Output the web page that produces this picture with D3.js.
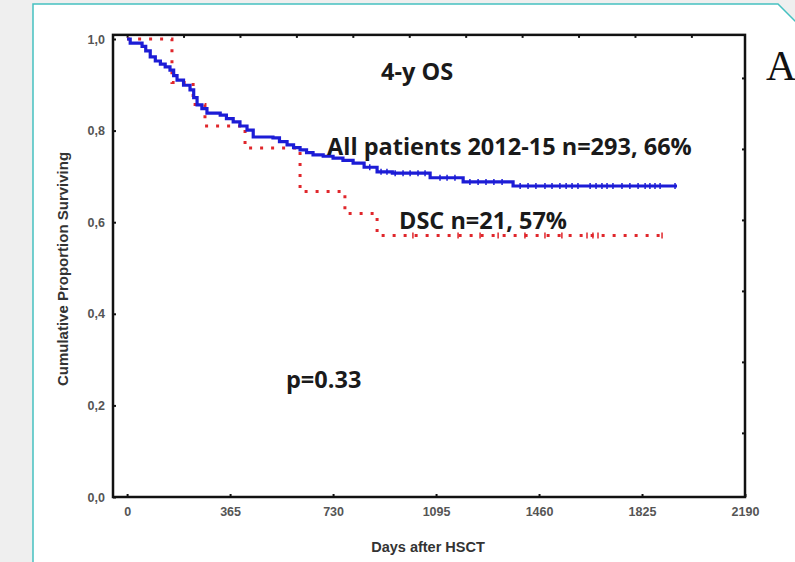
<!DOCTYPE html>
<html>
<head>
<meta charset="utf-8">
<script src="https://cdn.jsdelivr.net/npm/d3@7"></script>
<style>
  body { margin: 0; background: #efefef; }
  svg { display: block; }
</style>
</head>
<body>
<svg id="chart" width="795" height="562"></svg>
<script>
// all patients 2012-15 (step points, days after HSCT / survival)
var allDays = [0, 11, 53, 66, 82, 100, 118, 135, 152, 165, 177, 200, 223, 236, 248, 265, 283, 330, 352, 376, 400, 425, 447, 517, 540, 567, 590, 613, 636, 659, 695, 730, 765, 801, 840, 886, 940, 1074, 1191, 1368, 1949];
var allSurv = [1.0, 0.991, 0.984, 0.974, 0.961, 0.952, 0.945, 0.939, 0.932, 0.92, 0.910, 0.899, 0.889, 0.872, 0.856, 0.848, 0.838, 0.834, 0.826, 0.819, 0.81, 0.801, 0.786, 0.784, 0.776, 0.769, 0.763, 0.758, 0.752, 0.747, 0.744, 0.740, 0.735, 0.729, 0.72, 0.710, 0.707, 0.697, 0.688, 0.679, 0.679];
var allCensor = [860, 900, 921, 950, 978, 1003, 1031, 1056, 1109, 1134, 1162, 1215, 1244, 1272, 1300, 1329, 1393, 1421, 1449, 1481, 1506, 1534, 1556, 1577, 1598, 1641, 1662, 1683, 1701, 1722, 1754, 1782, 1811, 1836, 1853, 1871, 1889, 1942];

// DSC group
var dscDays = [0, 159, 234, 276, 418, 613, 772, 886, 1896];
var dscSurv = [1.0, 0.905, 0.857, 0.810, 0.762, 0.667, 0.619, 0.571, 0.571];
var dscCensor = [1013, 1173, 1251, 1315, 1410, 1481, 1541, 1630, 1651, 1669, 1896];

var xTicks = [0, 365, 730, 1095, 1460, 1825, 2190];
var yTicks = [0, 0.2, 0.4, 0.6, 0.8, 1.0];
var topTicks = [0, 200, 400, 600, 800, 1000, 1200, 1400, 1600, 1800, 2000];
var rightTicks = [0.14, 0.295, 0.45, 0.605, 0.76, 0.915];

var svg = d3.select("#chart");

// slide background: grey margin, white panel with teal border
svg.append("rect").attr("width", 795).attr("height", 562).attr("fill", "#efefef");
svg.append("path")
    .attr("d", "M33,563 L33,4 L778,4 L796,22 L796,563 Z")
    .attr("fill", "white")
    .attr("stroke", "#45c1c1")
    .attr("stroke-width", 1.5);

var x = d3.scaleLinear().domain([-50, 2190]).range([113, 745]);
var y = d3.scaleLinear().domain([0, 1]).range([497, 39]);

var axisFont = "'Liberation Sans', Arial, sans-serif";
var textFont = "'Open Sans', Lato, sans-serif";

// frame
var frameTop = y(1.009);
svg.append("rect")
    .attr("x", x(-50)).attr("y", frameTop)
    .attr("width", x(2190) - x(-50)).attr("height", y(0) - frameTop)
    .attr("fill", "none").attr("stroke", "#111").attr("stroke-width", 2.5);

// axes
var xAxis = d3.axisBottom(x).tickValues(xTicks).tickSize(-3).tickPadding(10).tickFormat(d3.format("d"));
var gx = svg.append("g").attr("transform", "translate(0," + y(0) + ")").call(xAxis);
var yAxis = d3.axisLeft(y).tickValues(yTicks).tickSize(-3).tickPadding(8)
    .tickFormat(function (d) { return d.toFixed(1).replace(".", ","); });
var gy = svg.append("g").attr("transform", "translate(" + x(-50) + ",0)").call(yAxis);
var gt = svg.append("g").attr("transform", "translate(0," + frameTop + ")")
    .call(d3.axisTop(x).tickValues(topTicks).tickSize(-3).tickFormat(""));
var gr = svg.append("g").attr("transform", "translate(" + x(2190) + ",0)")
    .call(d3.axisRight(y).tickValues(rightTicks).tickSize(-3).tickFormat(""));

[gx, gy, gt, gr].forEach(function (g) {
    g.select(".domain").remove();
    g.selectAll(".tick line").attr("stroke", "#111").attr("stroke-width", 2);
    g.selectAll(".tick text")
        .attr("fill", "#555")
        .style("font-family", axisFont)
        .style("font-size", "12.5px")
        .style("font-weight", "bold");
});

// survival curves
var line = d3.line()
    .x(function (d) { return x(d[0]); })
    .y(function (d) { return y(d[1]); })
    .curve(d3.curveStepAfter);

var allData = allDays.map(function (d, i) { return [d, allSurv[i]]; });
var dscData = dscDays.map(function (d, i) { return [d, dscSurv[i]]; });

svg.append("path").datum(dscData)
    .attr("d", line)
    .attr("fill", "none")
    .attr("stroke", "#e0262b")
    .attr("stroke-width", 3)
    .attr("stroke-dasharray", "3,8");

svg.append("path").datum(allData)
    .attr("d", line)
    .attr("fill", "none")
    .attr("stroke", "#1c1cd6")
    .attr("stroke-width", 3.2);

// censor marks
function survAt(days, surv, t) {
    var v = surv[0];
    for (var i = 0; i < days.length; i++) {
        if (days[i] <= t) v = surv[i];
    }
    return v;
}

svg.selectAll(".cAll").data(allCensor).enter().append("line")
    .attr("class", "cAll")
    .attr("x1", function (d) { return x(d); })
    .attr("x2", function (d) { return x(d); })
    .attr("y1", function (d) { return y(survAt(allDays, allSurv, d)) - 3; })
    .attr("y2", function (d) { return y(survAt(allDays, allSurv, d)) + 3; })
    .attr("stroke", "#1c1cd6").attr("stroke-width", 1.5);

svg.selectAll(".cDsc").data(dscCensor).enter().append("line")
    .attr("class", "cDsc")
    .attr("x1", function (d) { return x(d); })
    .attr("x2", function (d) { return x(d); })
    .attr("y1", function (d) { return y(survAt(dscDays, dscSurv, d)) - 3; })
    .attr("y2", function (d) { return y(survAt(dscDays, dscSurv, d)) + 3; })
    .attr("stroke", "#e0262b").attr("stroke-width", 1.5);

// axis titles
svg.append("text")
    .attr("x", 428).attr("y", 552)
    .attr("text-anchor", "middle")
    .attr("fill", "#333")
    .style("font-family", axisFont).style("font-size", "14.5px").style("font-weight", "bold")
    .text("Days after HSCT");

svg.append("text")
    .attr("transform", "translate(68,269) rotate(-90)")
    .attr("text-anchor", "middle")
    .attr("fill", "#333")
    .style("font-family", axisFont).style("font-size", "15px").style("font-weight", "bold")
    .text("Cumulative Proportion Surviving");

// annotations
function note(tx, ty, s) {
    svg.append("text")
        .attr("x", tx).attr("y", ty)
        .attr("fill", "#1a1a1a")
        .style("font-family", textFont).style("font-size", "23.5px").style("font-weight", "bold")
        .text(s);
}
note(381, 80, "4-y OS");
note(327, 155, "All patients 2012-15 n=293, 66%");
note(399, 229, "DSC n=21, 57%");
note(286, 388, "p=0.33");

svg.append("text")
    .attr("x", 766).attr("y", 80)
    .attr("fill", "#111")
    .style("font-family", "'Liberation Serif', 'DejaVu Serif', serif")
    .style("font-size", "42px")
    .text("A");
</script>
</body>
</html>
